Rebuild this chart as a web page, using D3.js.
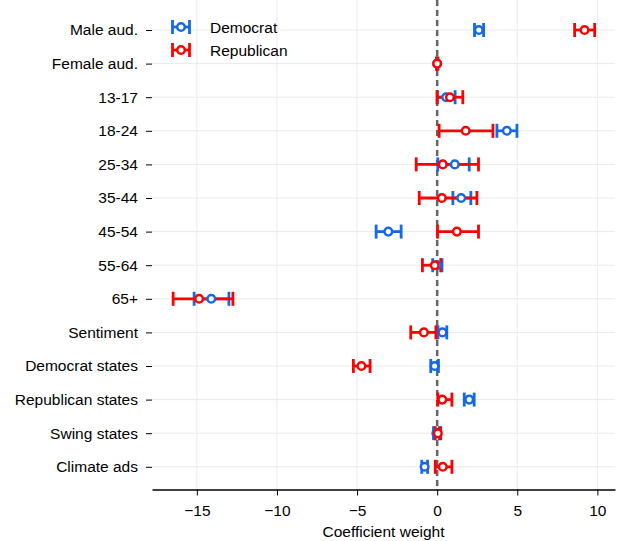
<!DOCTYPE html>
<html>
<head>
<meta charset="utf-8">
<script src="https://cdn.jsdelivr.net/npm/d3@7"></script>
<style>
  body { margin: 0; background: #fff; }
  text { font-family: "Liberation Sans", Arial, Helvetica, sans-serif; }
</style>
</head>
<body>
<svg id="chart" width="618" height="541"></svg>
<script>
var categories = ["Male aud.", "Female aud.", "13-17", "18-24", "25-34", "35-44", "45-54",
  "55-64", "65+", "Sentiment", "Democrat states", "Republican states", "Swing states", "Climate ads"];

var demValue = [2.6, 0, 0.56, 4.35, 1.1, 1.5, -3.05, 0.0, -14.1, 0.33, -0.16, 2.0, -0.05, -0.78];
var demLow   = [2.33, 0, 0.0, 3.73, 0.04, 0.98, -3.81, -0.28, -15.17, 0.05, -0.4, 1.69, -0.23, -0.96];
var demHigh  = [2.9, 0, 1.12, 4.98, 2.0, 2.1, -2.25, 0.3, -13.0, 0.6, 0.08, 2.31, 0.13, -0.6];

var repValue = [9.2, 0, 0.8, 1.78, 0.35, 0.29, 1.23, -0.15, -14.86, -0.83, -4.73, 0.32, 0.04, 0.35];
var repLow   = [8.58, -0.05, 0.0, 0.12, -1.31, -1.12, 0.02, -0.92, -16.48, -1.65, -5.23, 0.04, -0.12, -0.12];
var repHigh  = [9.83, 0.05, 1.6, 3.48, 2.58, 2.48, 2.58, 0.22, -12.75, -0.08, -4.19, 0.92, 0.22, 0.92];

var xTicks = [-15, -10, -5, 0, 5, 10];

var series = [
  {name: "Democrat", color: "#1469e6", value: demValue, low: demLow, high: demHigh},
  {name: "Republican", color: "#ff0000", value: repValue, low: repLow, high: repHigh}
];

var svg = d3.select("#chart"),
    left = 152, right = 615, top = 6, bottom = 489.5,
    fontSize = "15.5px";

var x = d3.scaleLinear().domain([-17.8, 11.1]).range([left, right]);
var y = d3.scalePoint().domain(categories).range([30, 466.8]);

// grid
var grid = svg.append("g");
grid.selectAll(".vg").data(xTicks).enter().append("line")
    .attr("x1", function(d) { return x(d); }).attr("x2", function(d) { return x(d); })
    .attr("y1", 0).attr("y2", bottom)
    .attr("stroke", "#ebebeb").attr("stroke-width", 1);
grid.selectAll(".hg").data(categories).enter().append("line")
    .attr("x1", left).attr("x2", right)
    .attr("y1", function(d) { return y(d); }).attr("y2", function(d) { return y(d); })
    .attr("stroke", "#ebebeb").attr("stroke-width", 1);

// zero line
svg.append("line")
    .attr("x1", x(0)).attr("x2", x(0))
    .attr("y1", top).attr("y2", bottom)
    .attr("stroke", "#666").attr("stroke-width", 2.5)
    .attr("stroke-dasharray", "6,4");

// axes
var xAxis = svg.append("g")
    .attr("transform", "translate(0," + bottom + ")")
    .call(d3.axisBottom(x).tickValues(xTicks).tickSize(6).tickSizeOuter(0).tickPadding(9));
xAxis.select(".domain").attr("stroke-width", 1.5);
xAxis.selectAll("text").attr("font-size", fontSize).attr("fill", "#000");

var yAxis = svg.append("g")
    .attr("transform", "translate(" + left + ",0)")
    .call(d3.axisLeft(y).tickSize(6).tickPadding(8));
yAxis.select(".domain").remove();
yAxis.selectAll("text").attr("font-size", fontSize).attr("fill", "#000");

svg.append("text")
    .attr("x", (left + right) / 2).attr("y", 537)
    .attr("text-anchor", "middle")
    .attr("font-size", fontSize).attr("fill", "#000")
    .text("Coefficient weight");

// error bars
var capH = 7;
series.forEach(function(s) {
  var g = svg.append("g").attr("stroke", s.color).attr("stroke-width", 2.8).attr("fill", "none");
  categories.forEach(function(c, i) {
    var yy = y(c);
    g.append("line").attr("x1", x(s.low[i])).attr("x2", x(s.high[i])).attr("y1", yy).attr("y2", yy);
    g.append("line").attr("x1", x(s.low[i])).attr("x2", x(s.low[i])).attr("y1", yy - capH).attr("y2", yy + capH);
    g.append("line").attr("x1", x(s.high[i])).attr("x2", x(s.high[i])).attr("y1", yy - capH).attr("y2", yy + capH);
  });
});

// markers
series.forEach(function(s) {
  svg.append("g").selectAll("circle").data(categories).enter().append("circle")
      .attr("cx", function(d, i) { return x(s.value[i]); })
      .attr("cy", function(d) { return y(d); })
      .attr("r", 3.8)
      .attr("fill", "#fff")
      .attr("stroke", s.color)
      .attr("stroke-width", 2.5);
});

// legend
var legend = svg.append("g");
series.forEach(function(s, i) {
  var ly = 27 + i * 23, lx = 181;
  var lg = legend.append("g").attr("stroke", s.color).attr("stroke-width", 2.8).attr("fill", "none");
  lg.append("line").attr("x1", lx - 8.5).attr("x2", lx + 8.5).attr("y1", ly).attr("y2", ly);
  lg.append("line").attr("x1", lx - 8.5).attr("x2", lx - 8.5).attr("y1", ly - capH).attr("y2", ly + capH);
  lg.append("line").attr("x1", lx + 8.5).attr("x2", lx + 8.5).attr("y1", ly - capH).attr("y2", ly + capH);
  lg.append("circle").attr("cx", lx).attr("cy", ly).attr("r", 3.8)
      .attr("fill", "#fff").attr("stroke-width", 2.5);
  legend.append("text").attr("x", 210).attr("y", ly + 5.5)
      .attr("font-size", fontSize).attr("fill", "#000").text(s.name);
});
</script>
</body>
</html>
